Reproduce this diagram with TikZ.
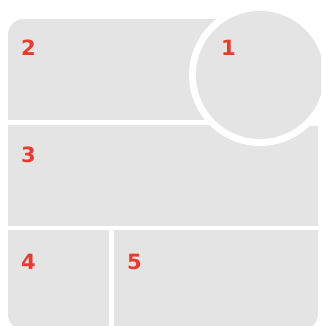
\documentclass[tikz,border=0pt]{standalone}
\usepackage{fontspec}
\setmainfont{DejaVu Sans}
\definecolor{panel}{RGB}{228,228,228}
\definecolor{numred}{RGB}{238,58,46}
\begin{document}
\begin{tikzpicture}[x=1pt,y=-1pt,
  num/.style={anchor=base west,inner sep=0pt,text=numred,font=\bfseries\fontsize{21}{21}\selectfont},
  gap/.style={fill=white}]
\useasboundingbox (0,0) rectangle (321,326);
\clip (0,0) rectangle (321,326);
\fill[panel,rounded corners=16pt] (8,19) rectangle (318,330);
\fill[gap] (0,119.5) rectangle (321,124.5);
\fill[gap] (0,225.5) rectangle (321,230);
\fill[gap] (108.5,230) rectangle (113.5,330);
\fill[gap] (300,0) rectangle (321,126);
\fill[white] (260,75) circle (71);
\fill[panel] (260,75) circle (64);
\node[num] (l1) at (221,56) {1};
\node[num] (l2) at (21,56) {2};
\node[num] (l3) at (21,162) {3};
\node[num] (l4) at (21,269) {4};
\node[num] (l5) at (127,269) {5};
\end{tikzpicture}
\end{document}
